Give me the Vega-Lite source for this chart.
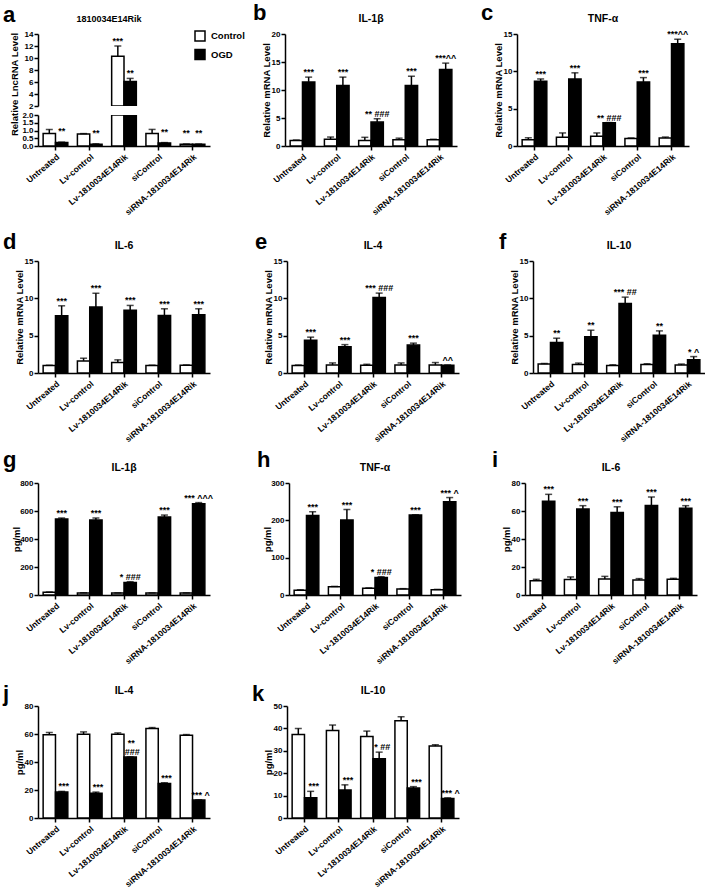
{
"$schema": "https://vega.github.io/schema/vega-lite/v6.json",
"padding": {"left": 3, "top": 2, "right": 0, "bottom": 0},
"spacing": 14,
"vconcat": [
 {"hconcat": [
  {"hconcat": [
   {"title": {"text": "a", "anchor": "start", "frame": "group", "fontSize": 22, "fontWeight": "bold", "baseline": "alphabetic", "dx": -35, "offset": -28.5},
    "vconcat": [
     {"width": 172, "height": 72, "title": {"text": "1810034E14Rik", "fontSize": 9, "dx": -15}, "data": {"name": "a"},
      "encoding": {"x": {"field": "c", "type": "nominal", "sort": ["Untreated", "Lv-control", "Lv-1810034E14Rik", "siControl", "siRNA-1810034E14Rik"], "scale": {"domain": ["Untreated", "Lv-control", "Lv-1810034E14Rik", "siControl", "siRNA-1810034E14Rik"], "paddingInner": 0.28, "paddingOuter": 0.15}, "axis": null}, "xOffset": {"field": "g", "type": "nominal", "sort": ["Control", "OGD"], "scale": {"domain": ["Control", "OGD"]}}},
      "layer": [
       {"transform": [{"filter": "datum.v > 2"}], "mark": {"type": "bar", "stroke": "black", "strokeWidth": 1.5, "clip": true}, "encoding": {"y": {"field": "v", "type": "quantitative", "scale": {"domain": [2, 14], "nice": false, "zero": false, "clamp": true}, "axis": {"title": "Relative LncRNA Level", "values": [2, 4, 6, 8, 10, 12, 14], "format": "d", "tickCount": 20, "titleY": 50, "titlePadding": 5}}, "fill": {"field": "g", "type": "nominal", "scale": {"domain": ["Control", "OGD"], "range": ["white", "black"]}, "legend": {"title": null, "orient": "none", "legendX": 156, "legendY": -4, "symbolType": "square", "symbolSize": 100, "symbolStrokeColor": "black", "symbolStrokeWidth": 1.5, "labelFontSize": 9.5, "labelFont": "Liberation Sans", "labelFontWeight": "bold", "labelColor": "black", "rowPadding": 2.5, "labelOffset": 5, "padding": 0}}}},
       {"transform": [{"filter": "datum.hi > 2"}], "mark": {"type": "rule", "color": "black", "strokeWidth": 1.5, "clip": true}, "encoding": {"y": {"field": "v", "type": "quantitative"}, "y2": {"field": "hi"}}},
       {"transform": [{"filter": "datum.hi > 2"}], "mark": {"type": "tick", "color": "black", "thickness": 1.5, "size": 7, "clip": true}, "encoding": {"y": {"field": "hi", "type": "quantitative"}}},
       {"transform": [{"filter": "datum.hi > 2"}], "mark": {"type": "text", "baseline": "alphabetic", "dy": -2, "fontSize": 9, "fontWeight": "bold"}, "encoding": {"y": {"field": "hi", "type": "quantitative"}, "text": {"field": "t"}}}
      ]},
     {"width": 172, "height": 31, "data": {"name": "a"},
      "encoding": {"x": {"field": "c", "type": "nominal", "sort": ["Untreated", "Lv-control", "Lv-1810034E14Rik", "siControl", "siRNA-1810034E14Rik"], "scale": {"domain": ["Untreated", "Lv-control", "Lv-1810034E14Rik", "siControl", "siRNA-1810034E14Rik"], "paddingInner": 0.28, "paddingOuter": 0.15}, "axis": {"title": null, "labelAngle": -40}}, "xOffset": {"field": "g", "type": "nominal", "sort": ["Control", "OGD"], "scale": {"domain": ["Control", "OGD"]}}},
      "layer": [
       {"mark": {"type": "bar", "stroke": "black", "strokeWidth": 1.5, "clip": true}, "encoding": {"y": {"field": "v", "type": "quantitative", "scale": {"domain": [0, 2], "nice": false, "zero": false, "clamp": true}, "axis": {"title": null, "values": [0, 0.5, 1, 1.5, 2], "tickCount": 20, "format": ".1f"}}, "fill": {"condition": {"test": "datum.g==='OGD'", "value": "black"}, "value": "white"}}},
       {"transform": [{"filter": "datum.hi < 2"}], "mark": {"type": "rule", "color": "black", "strokeWidth": 1.5}, "encoding": {"y": {"field": "v", "type": "quantitative"}, "y2": {"field": "hi"}}},
       {"transform": [{"filter": "datum.hi < 2"}], "mark": {"type": "tick", "color": "black", "thickness": 1.5, "size": 7}, "encoding": {"y": {"field": "hi", "type": "quantitative"}}},
       {"transform": [{"filter": "datum.hi < 2"}], "mark": {"type": "text", "baseline": "alphabetic", "dy": -8, "fontSize": 9, "fontWeight": "bold"}, "encoding": {"y": {"field": "hi", "type": "quantitative"}, "text": {"field": "t"}}}
      ]}
    ], "spacing": 9, "bounds": "flush"},
   {"title": {"text": "b", "anchor": "start", "frame": "group", "fontSize": 22, "fontWeight": "bold", "baseline": "alphabetic", "dx": -32, "offset": -28.5},
    "vconcat": [
     {"width": 172, "height": 112, "title": "IL-1β", "data": {"name": "b"},
      "encoding": {"x": {"field": "c", "type": "nominal", "sort": ["Untreated", "Lv-control", "Lv-1810034E14Rik", "siControl", "siRNA-1810034E14Rik"], "scale": {"domain": ["Untreated", "Lv-control", "Lv-1810034E14Rik", "siControl", "siRNA-1810034E14Rik"], "paddingInner": 0.28, "paddingOuter": 0.15}, "axis": {"title": null, "labelAngle": -40}}, "xOffset": {"field": "g", "type": "nominal", "sort": ["Control", "OGD"], "scale": {"domain": ["Control", "OGD"]}}},
      "layer": [
       {"mark": {"type": "bar", "stroke": "black", "strokeWidth": 1.5}, "encoding": {"y": {"field": "v", "type": "quantitative", "scale": {"domain": [0, 20], "nice": false}, "axis": {"title": "Relative mRNA Level", "values": [0, 5, 10, 15, 20], "tickCount": 20}}, "fill": {"condition": {"test": "datum.g==='OGD'", "value": "black"}, "value": "white"}}},
       {"mark": {"type": "rule", "color": "black", "strokeWidth": 1.5}, "encoding": {"y": {"field": "v", "type": "quantitative"}, "y2": {"field": "hi"}}},
       {"mark": {"type": "tick", "color": "black", "thickness": 1.5, "size": 7}, "encoding": {"y": {"field": "hi", "type": "quantitative"}}},
       {"mark": {"type": "text", "baseline": "alphabetic", "dy": -2, "fontSize": 9, "fontWeight": "bold"}, "encoding": {"y": {"field": "hi", "type": "quantitative"}, "text": {"field": "t"}}}
      ]}
    ]}
  ], "spacing": 43},
  {"title": {"text": "c", "anchor": "start", "frame": "group", "fontSize": 22, "fontWeight": "bold", "baseline": "alphabetic", "dx": -36, "offset": -28.5},
   "vconcat": [
    {"width": 172, "height": 112, "title": "TNF-α", "data": {"name": "c"},
     "encoding": {"x": {"field": "c", "type": "nominal", "sort": ["Untreated", "Lv-control", "Lv-1810034E14Rik", "siControl", "siRNA-1810034E14Rik"], "scale": {"domain": ["Untreated", "Lv-control", "Lv-1810034E14Rik", "siControl", "siRNA-1810034E14Rik"], "paddingInner": 0.28, "paddingOuter": 0.15}, "axis": {"title": null, "labelAngle": -40}}, "xOffset": {"field": "g", "type": "nominal", "sort": ["Control", "OGD"], "scale": {"domain": ["Control", "OGD"]}}},
     "layer": [
      {"mark": {"type": "bar", "stroke": "black", "strokeWidth": 1.5}, "encoding": {"y": {"field": "v", "type": "quantitative", "scale": {"domain": [0, 15], "nice": false}, "axis": {"title": "Relative mRNA Level", "values": [0, 5, 10, 15], "tickCount": 20}}, "fill": {"condition": {"test": "datum.g==='OGD'", "value": "black"}, "value": "white"}}},
      {"mark": {"type": "rule", "color": "black", "strokeWidth": 1.5}, "encoding": {"y": {"field": "v", "type": "quantitative"}, "y2": {"field": "hi"}}},
      {"mark": {"type": "tick", "color": "black", "thickness": 1.5, "size": 7}, "encoding": {"y": {"field": "hi", "type": "quantitative"}}},
      {"mark": {"type": "text", "baseline": "alphabetic", "dy": -2, "fontSize": 9, "fontWeight": "bold"}, "encoding": {"y": {"field": "hi", "type": "quantitative"}, "text": {"field": "t"}}}
     ]}
   ]}
 ], "spacing": 24},
 {"vconcat": [
  {"hconcat": [
   {"hconcat": [
    {"title": {"text": "d", "anchor": "start", "frame": "group", "fontSize": 22, "fontWeight": "bold", "baseline": "alphabetic", "dx": -35, "offset": -30.5},
     "vconcat": [
      {"width": 172, "height": 112, "title": "IL-6", "data": {"name": "d"},
       "encoding": {"x": {"field": "c", "type": "nominal", "sort": ["Untreated", "Lv-control", "Lv-1810034E14Rik", "siControl", "siRNA-1810034E14Rik"], "scale": {"domain": ["Untreated", "Lv-control", "Lv-1810034E14Rik", "siControl", "siRNA-1810034E14Rik"], "paddingInner": 0.28, "paddingOuter": 0.15}, "axis": {"title": null, "labelAngle": -40}}, "xOffset": {"field": "g", "type": "nominal", "sort": ["Control", "OGD"], "scale": {"domain": ["Control", "OGD"]}}},
       "layer": [
        {"mark": {"type": "bar", "stroke": "black", "strokeWidth": 1.5}, "encoding": {"y": {"field": "v", "type": "quantitative", "scale": {"domain": [0, 15], "nice": false}, "axis": {"title": "Relative mRNA Level", "values": [0, 5, 10, 15], "tickCount": 20}}, "fill": {"condition": {"test": "datum.g==='OGD'", "value": "black"}, "value": "white"}}},
        {"mark": {"type": "rule", "color": "black", "strokeWidth": 1.5}, "encoding": {"y": {"field": "v", "type": "quantitative"}, "y2": {"field": "hi"}}},
        {"mark": {"type": "tick", "color": "black", "thickness": 1.5, "size": 7}, "encoding": {"y": {"field": "hi", "type": "quantitative"}}},
        {"mark": {"type": "text", "baseline": "alphabetic", "dy": -2, "fontSize": 9, "fontWeight": "bold"}, "encoding": {"y": {"field": "hi", "type": "quantitative"}, "text": {"field": "t"}}}
       ]}
     ]},
    {"title": {"text": "e", "anchor": "start", "frame": "group", "fontSize": 22, "fontWeight": "bold", "baseline": "alphabetic", "dx": -32, "offset": -30.5},
     "vconcat": [
      {"width": 172, "height": 112, "title": "IL-4", "data": {"name": "e"},
       "encoding": {"x": {"field": "c", "type": "nominal", "sort": ["Untreated", "Lv-control", "Lv-1810034E14Rik", "siControl", "siRNA-1810034E14Rik"], "scale": {"domain": ["Untreated", "Lv-control", "Lv-1810034E14Rik", "siControl", "siRNA-1810034E14Rik"], "paddingInner": 0.28, "paddingOuter": 0.15}, "axis": {"title": null, "labelAngle": -40}}, "xOffset": {"field": "g", "type": "nominal", "sort": ["Control", "OGD"], "scale": {"domain": ["Control", "OGD"]}}},
       "layer": [
        {"mark": {"type": "bar", "stroke": "black", "strokeWidth": 1.5}, "encoding": {"y": {"field": "v", "type": "quantitative", "scale": {"domain": [0, 15], "nice": false}, "axis": {"title": "Relative mRNA Level", "values": [0, 5, 10, 15], "tickCount": 20}}, "fill": {"condition": {"test": "datum.g==='OGD'", "value": "black"}, "value": "white"}}},
        {"mark": {"type": "rule", "color": "black", "strokeWidth": 1.5}, "encoding": {"y": {"field": "v", "type": "quantitative"}, "y2": {"field": "hi"}}},
        {"mark": {"type": "tick", "color": "black", "thickness": 1.5, "size": 7}, "encoding": {"y": {"field": "hi", "type": "quantitative"}}},
        {"mark": {"type": "text", "baseline": "alphabetic", "dy": -2, "fontSize": 9, "fontWeight": "bold"}, "encoding": {"y": {"field": "hi", "type": "quantitative"}, "text": {"field": "t"}}}
       ]}
     ]}
   ], "spacing": 45},
   {"title": {"text": "f", "anchor": "start", "frame": "group", "fontSize": 22, "fontWeight": "bold", "baseline": "alphabetic", "dx": -34, "offset": -30.5},
    "vconcat": [
     {"width": 172, "height": 112, "title": "IL-10", "data": {"name": "f"},
      "encoding": {"x": {"field": "c", "type": "nominal", "sort": ["Untreated", "Lv-control", "Lv-1810034E14Rik", "siControl", "siRNA-1810034E14Rik"], "scale": {"domain": ["Untreated", "Lv-control", "Lv-1810034E14Rik", "siControl", "siRNA-1810034E14Rik"], "paddingInner": 0.28, "paddingOuter": 0.15}, "axis": {"title": null, "labelAngle": -40}}, "xOffset": {"field": "g", "type": "nominal", "sort": ["Control", "OGD"], "scale": {"domain": ["Control", "OGD"]}}},
      "layer": [
       {"mark": {"type": "bar", "stroke": "black", "strokeWidth": 1.5}, "encoding": {"y": {"field": "v", "type": "quantitative", "scale": {"domain": [0, 15], "nice": false}, "axis": {"title": "Relative mRNA Level", "values": [0, 5, 10, 15], "tickCount": 20}}, "fill": {"condition": {"test": "datum.g==='OGD'", "value": "black"}, "value": "white"}}},
       {"mark": {"type": "rule", "color": "black", "strokeWidth": 1.5}, "encoding": {"y": {"field": "v", "type": "quantitative"}, "y2": {"field": "hi"}}},
       {"mark": {"type": "tick", "color": "black", "thickness": 1.5, "size": 7}, "encoding": {"y": {"field": "hi", "type": "quantitative"}}},
       {"mark": {"type": "text", "baseline": "alphabetic", "dy": -2, "fontSize": 9, "fontWeight": "bold"}, "encoding": {"y": {"field": "hi", "type": "quantitative"}, "text": {"field": "t"}}}
      ]}
    ]}
  ], "spacing": 40},
  {"vconcat": [
   {"hconcat": [
    {"hconcat": [
     {"title": {"text": "g", "anchor": "start", "frame": "group", "fontSize": 22, "fontWeight": "bold", "baseline": "alphabetic", "dx": -35, "offset": -26.5},
      "vconcat": [
       {"width": 172, "height": 112, "title": "IL-1β", "data": {"name": "g"},
        "encoding": {"x": {"field": "c", "type": "nominal", "sort": ["Untreated", "Lv-control", "Lv-1810034E14Rik", "siControl", "siRNA-1810034E14Rik"], "scale": {"domain": ["Untreated", "Lv-control", "Lv-1810034E14Rik", "siControl", "siRNA-1810034E14Rik"], "paddingInner": 0.28, "paddingOuter": 0.15}, "axis": {"title": null, "labelAngle": -40}}, "xOffset": {"field": "g", "type": "nominal", "sort": ["Control", "OGD"], "scale": {"domain": ["Control", "OGD"]}}},
        "layer": [
         {"mark": {"type": "bar", "stroke": "black", "strokeWidth": 1.5}, "encoding": {"y": {"field": "v", "type": "quantitative", "scale": {"domain": [0, 800], "nice": false}, "axis": {"title": "pg/ml", "values": [0, 200, 400, 600, 800], "tickCount": 20, "minExtent": 17, "maxExtent": 17}}, "fill": {"condition": {"test": "datum.g==='OGD'", "value": "black"}, "value": "white"}}},
         {"mark": {"type": "rule", "color": "black", "strokeWidth": 1.5}, "encoding": {"y": {"field": "v", "type": "quantitative"}, "y2": {"field": "hi"}}},
         {"mark": {"type": "tick", "color": "black", "thickness": 1.5, "size": 7}, "encoding": {"y": {"field": "hi", "type": "quantitative"}}},
         {"mark": {"type": "text", "baseline": "alphabetic", "dy": -2, "fontSize": 9, "fontWeight": "bold"}, "encoding": {"y": {"field": "hi", "type": "quantitative"}, "text": {"field": "t"}}}
        ]}
      ]},
     {"title": {"text": "h", "anchor": "start", "frame": "group", "fontSize": 22, "fontWeight": "bold", "baseline": "alphabetic", "dx": -32, "offset": -26.5},
      "vconcat": [
       {"width": 172, "height": 112, "title": "TNF-α", "data": {"name": "h"},
        "encoding": {"x": {"field": "c", "type": "nominal", "sort": ["Untreated", "Lv-control", "Lv-1810034E14Rik", "siControl", "siRNA-1810034E14Rik"], "scale": {"domain": ["Untreated", "Lv-control", "Lv-1810034E14Rik", "siControl", "siRNA-1810034E14Rik"], "paddingInner": 0.28, "paddingOuter": 0.15}, "axis": {"title": null, "labelAngle": -40}}, "xOffset": {"field": "g", "type": "nominal", "sort": ["Control", "OGD"], "scale": {"domain": ["Control", "OGD"]}}},
        "layer": [
         {"mark": {"type": "bar", "stroke": "black", "strokeWidth": 1.5}, "encoding": {"y": {"field": "v", "type": "quantitative", "scale": {"domain": [0, 300], "nice": false}, "axis": {"title": "pg/ml", "values": [0, 100, 200, 300], "tickCount": 20, "minExtent": 17, "maxExtent": 17}}, "fill": {"condition": {"test": "datum.g==='OGD'", "value": "black"}, "value": "white"}}},
         {"mark": {"type": "rule", "color": "black", "strokeWidth": 1.5}, "encoding": {"y": {"field": "v", "type": "quantitative"}, "y2": {"field": "hi"}}},
         {"mark": {"type": "tick", "color": "black", "thickness": 1.5, "size": 7}, "encoding": {"y": {"field": "hi", "type": "quantitative"}}},
         {"mark": {"type": "text", "baseline": "alphabetic", "dy": -2, "fontSize": 9, "fontWeight": "bold"}, "encoding": {"y": {"field": "hi", "type": "quantitative"}, "text": {"field": "t"}}}
        ]}
      ]}
    ], "spacing": 43},
    {"title": {"text": "i", "anchor": "start", "frame": "group", "fontSize": 22, "fontWeight": "bold", "baseline": "alphabetic", "dx": -33, "offset": -26.5},
     "vconcat": [
      {"width": 172, "height": 112, "title": "IL-6", "data": {"name": "i"},
       "encoding": {"x": {"field": "c", "type": "nominal", "sort": ["Untreated", "Lv-control", "Lv-1810034E14Rik", "siControl", "siRNA-1810034E14Rik"], "scale": {"domain": ["Untreated", "Lv-control", "Lv-1810034E14Rik", "siControl", "siRNA-1810034E14Rik"], "paddingInner": 0.28, "paddingOuter": 0.15}, "axis": {"title": null, "labelAngle": -40}}, "xOffset": {"field": "g", "type": "nominal", "sort": ["Control", "OGD"], "scale": {"domain": ["Control", "OGD"]}}},
       "layer": [
        {"mark": {"type": "bar", "stroke": "black", "strokeWidth": 1.5}, "encoding": {"y": {"field": "v", "type": "quantitative", "scale": {"domain": [0, 80], "nice": false}, "axis": {"title": "pg/ml", "values": [0, 20, 40, 60, 80], "tickCount": 20}}, "fill": {"condition": {"test": "datum.g==='OGD'", "value": "black"}, "value": "white"}}},
        {"mark": {"type": "rule", "color": "black", "strokeWidth": 1.5}, "encoding": {"y": {"field": "v", "type": "quantitative"}, "y2": {"field": "hi"}}},
        {"mark": {"type": "tick", "color": "black", "thickness": 1.5, "size": 7}, "encoding": {"y": {"field": "hi", "type": "quantitative"}}},
        {"mark": {"type": "text", "baseline": "alphabetic", "dy": -2, "fontSize": 9, "fontWeight": "bold"}, "encoding": {"y": {"field": "hi", "type": "quantitative"}, "text": {"field": "t"}}}
       ]}
     ]}
   ], "spacing": 31},
   {"hconcat": [
    {"title": {"text": "j", "anchor": "start", "frame": "group", "fontSize": 22, "fontWeight": "bold", "baseline": "alphabetic", "dx": -35, "offset": -37},
     "vconcat": [
      {"width": 172, "height": 112, "title": "IL-4", "data": {"name": "j"},
       "encoding": {"x": {"field": "c", "type": "nominal", "sort": ["Untreated", "Lv-control", "Lv-1810034E14Rik", "siControl", "siRNA-1810034E14Rik"], "scale": {"domain": ["Untreated", "Lv-control", "Lv-1810034E14Rik", "siControl", "siRNA-1810034E14Rik"], "paddingInner": 0.28, "paddingOuter": 0.15}, "axis": {"title": null, "labelAngle": -40}}, "xOffset": {"field": "g", "type": "nominal", "sort": ["Control", "OGD"], "scale": {"domain": ["Control", "OGD"]}}},
       "layer": [
        {"mark": {"type": "bar", "stroke": "black", "strokeWidth": 1.5}, "encoding": {"y": {"field": "v", "type": "quantitative", "scale": {"domain": [0, 80], "nice": false}, "axis": {"title": "pg/ml", "values": [0, 20, 40, 60, 80], "tickCount": 20}}, "fill": {"condition": {"test": "datum.g==='OGD'", "value": "black"}, "value": "white"}}},
        {"mark": {"type": "rule", "color": "black", "strokeWidth": 1.5}, "encoding": {"y": {"field": "v", "type": "quantitative"}, "y2": {"field": "hi"}}},
        {"mark": {"type": "tick", "color": "black", "thickness": 1.5, "size": 7}, "encoding": {"y": {"field": "hi", "type": "quantitative"}}},
        {"mark": {"type": "text", "baseline": "alphabetic", "dy": -2, "dx": 2, "fontSize": 9, "fontWeight": "bold"}, "encoding": {"y": {"field": "hi", "type": "quantitative"}, "text": {"field": "t"}}},
        {"mark": {"type": "text", "baseline": "alphabetic", "dy": -11, "dx": 1, "fontSize": 9, "fontWeight": "bold"}, "encoding": {"y": {"field": "hi", "type": "quantitative"}, "text": {"field": "t2"}}}
       ]}
     ]},
    {"title": {"text": "k", "anchor": "start", "frame": "group", "fontSize": 22, "fontWeight": "bold", "baseline": "alphabetic", "dx": -35, "offset": -37},
     "vconcat": [
      {"width": 172, "height": 112, "title": "IL-10", "data": {"name": "k"},
       "encoding": {"x": {"field": "c", "type": "nominal", "sort": ["Untreated", "Lv-control", "Lv-1810034E14Rik", "siControl", "siRNA-1810034E14Rik"], "scale": {"domain": ["Untreated", "Lv-control", "Lv-1810034E14Rik", "siControl", "siRNA-1810034E14Rik"], "paddingInner": 0.28, "paddingOuter": 0.15}, "axis": {"title": null, "labelAngle": -40}}, "xOffset": {"field": "g", "type": "nominal", "sort": ["Control", "OGD"], "scale": {"domain": ["Control", "OGD"]}}},
       "layer": [
        {"mark": {"type": "bar", "stroke": "black", "strokeWidth": 1.5}, "encoding": {"y": {"field": "v", "type": "quantitative", "scale": {"domain": [0, 50], "nice": false}, "axis": {"title": "pg/ml", "values": [0, 10, 20, 30, 40, 50], "tickCount": 20}}, "fill": {"condition": {"test": "datum.g==='OGD'", "value": "black"}, "value": "white"}}},
        {"mark": {"type": "rule", "color": "black", "strokeWidth": 1.5}, "encoding": {"y": {"field": "v", "type": "quantitative"}, "y2": {"field": "hi"}}},
        {"mark": {"type": "tick", "color": "black", "thickness": 1.5, "size": 7}, "encoding": {"y": {"field": "hi", "type": "quantitative"}}},
        {"mark": {"type": "text", "baseline": "alphabetic", "dy": -2, "dx": 3, "fontSize": 9, "fontWeight": "bold"}, "encoding": {"y": {"field": "hi", "type": "quantitative"}, "text": {"field": "t"}}}
       ]}
     ]}
   ], "spacing": 42}
  ], "spacing": 16}
 ], "spacing": 5}
],
"datasets": {
 "a": [
  {"c": "Untreated", "g": "Control", "v": 0.8, "hi": 1.07, "t": ""},
  {"c": "Untreated", "g": "OGD", "v": 0.22, "hi": 0.25, "t": "**"},
  {"c": "Lv-control", "g": "Control", "v": 0.78, "hi": 0.8, "t": ""},
  {"c": "Lv-control", "g": "OGD", "v": 0.12, "hi": 0.14, "t": "**"},
  {"c": "Lv-1810034E14Rik", "g": "Control", "v": 10.3, "hi": 12.0, "t": "***"},
  {"c": "Lv-1810034E14Rik", "g": "OGD", "v": 6.1, "hi": 6.6, "t": "**"},
  {"c": "siControl", "g": "Control", "v": 0.8, "hi": 1.07, "t": ""},
  {"c": "siControl", "g": "OGD", "v": 0.2, "hi": 0.22, "t": "**"},
  {"c": "siRNA-1810034E14Rik", "g": "Control", "v": 0.12, "hi": 0.13, "t": "**"},
  {"c": "siRNA-1810034E14Rik", "g": "OGD", "v": 0.12, "hi": 0.13, "t": "**"}
 ],
 "b": [
  {"c": "Untreated", "g": "Control", "v": 1.0, "hi": 1.07, "t": ""},
  {"c": "Untreated", "g": "OGD", "v": 11.45, "hi": 12.3, "t": "***"},
  {"c": "Lv-control", "g": "Control", "v": 1.2, "hi": 1.6, "t": ""},
  {"c": "Lv-control", "g": "OGD", "v": 10.8, "hi": 12.3, "t": "***"},
  {"c": "Lv-1810034E14Rik", "g": "Control", "v": 1.0, "hi": 1.55, "t": ""},
  {"c": "Lv-1810034E14Rik", "g": "OGD", "v": 4.27, "hi": 4.87, "t": "** ###"},
  {"c": "siControl", "g": "Control", "v": 1.1, "hi": 1.4, "t": ""},
  {"c": "siControl", "g": "OGD", "v": 10.8, "hi": 12.46, "t": "***"},
  {"c": "siRNA-1810034E14Rik", "g": "Control", "v": 1.1, "hi": 1.2, "t": ""},
  {"c": "siRNA-1810034E14Rik", "g": "OGD", "v": 13.65, "hi": 14.8, "t": "***^^"}
 ],
 "c": [
  {"c": "Untreated", "g": "Control", "v": 0.85, "hi": 1.1, "t": ""},
  {"c": "Untreated", "g": "OGD", "v": 8.67, "hi": 8.98, "t": "***"},
  {"c": "Lv-control", "g": "Control", "v": 1.17, "hi": 1.75, "t": ""},
  {"c": "Lv-control", "g": "OGD", "v": 8.98, "hi": 9.8, "t": "***"},
  {"c": "Lv-1810034E14Rik", "g": "Control", "v": 1.3, "hi": 1.75, "t": ""},
  {"c": "Lv-1810034E14Rik", "g": "OGD", "v": 3.1, "hi": 3.14, "t": "** ###"},
  {"c": "siControl", "g": "Control", "v": 1.0, "hi": 1.08, "t": ""},
  {"c": "siControl", "g": "OGD", "v": 8.58, "hi": 9.16, "t": "***"},
  {"c": "siRNA-1810034E14Rik", "g": "Control", "v": 1.08, "hi": 1.2, "t": ""},
  {"c": "siRNA-1810034E14Rik", "g": "OGD", "v": 13.7, "hi": 14.3, "t": "***^^"}
 ],
 "d": [
  {"c": "Untreated", "g": "Control", "v": 1.0, "hi": 1.05, "t": ""},
  {"c": "Untreated", "g": "OGD", "v": 7.66, "hi": 9.0, "t": "***"},
  {"c": "Lv-control", "g": "Control", "v": 1.62, "hi": 1.98, "t": ""},
  {"c": "Lv-control", "g": "OGD", "v": 8.83, "hi": 10.68, "t": "***"},
  {"c": "Lv-1810034E14Rik", "g": "Control", "v": 1.4, "hi": 1.76, "t": ""},
  {"c": "Lv-1810034E14Rik", "g": "OGD", "v": 8.42, "hi": 9.05, "t": "***"},
  {"c": "siControl", "g": "Control", "v": 1.0, "hi": 1.05, "t": ""},
  {"c": "siControl", "g": "OGD", "v": 7.7, "hi": 8.6, "t": "***"},
  {"c": "siRNA-1810034E14Rik", "g": "Control", "v": 1.04, "hi": 1.08, "t": ""},
  {"c": "siRNA-1810034E14Rik", "g": "OGD", "v": 7.8, "hi": 8.6, "t": "***"}
 ],
 "e": [
  {"c": "Untreated", "g": "Control", "v": 1.0, "hi": 1.08, "t": ""},
  {"c": "Untreated", "g": "OGD", "v": 4.37, "hi": 4.8, "t": "***"},
  {"c": "Lv-control", "g": "Control", "v": 1.08, "hi": 1.35, "t": ""},
  {"c": "Lv-control", "g": "OGD", "v": 3.5, "hi": 3.8, "t": "***"},
  {"c": "Lv-1810034E14Rik", "g": "Control", "v": 1.04, "hi": 1.17, "t": ""},
  {"c": "Lv-1810034E14Rik", "g": "OGD", "v": 10.1, "hi": 10.7, "t": "*** ###"},
  {"c": "siControl", "g": "Control", "v": 1.08, "hi": 1.35, "t": ""},
  {"c": "siControl", "g": "OGD", "v": 3.74, "hi": 4.0, "t": "***"},
  {"c": "siRNA-1810034E14Rik", "g": "Control", "v": 1.08, "hi": 1.4, "t": ""},
  {"c": "siRNA-1810034E14Rik", "g": "OGD", "v": 1.04, "hi": 1.08, "t": "^^"}
 ],
 "f": [
  {"c": "Untreated", "g": "Control", "v": 1.2, "hi": 1.28, "t": ""},
  {"c": "Untreated", "g": "OGD", "v": 4.08, "hi": 4.66, "t": "**"},
  {"c": "Lv-control", "g": "Control", "v": 1.15, "hi": 1.33, "t": ""},
  {"c": "Lv-control", "g": "OGD", "v": 4.84, "hi": 5.73, "t": "**"},
  {"c": "Lv-1810034E14Rik", "g": "Control", "v": 1.02, "hi": 1.1, "t": ""},
  {"c": "Lv-1810034E14Rik", "g": "OGD", "v": 9.32, "hi": 10.16, "t": "*** ##"},
  {"c": "siControl", "g": "Control", "v": 1.15, "hi": 1.24, "t": ""},
  {"c": "siControl", "g": "OGD", "v": 5.06, "hi": 5.64, "t": "**"},
  {"c": "siRNA-1810034E14Rik", "g": "Control", "v": 1.06, "hi": 1.2, "t": ""},
  {"c": "siRNA-1810034E14Rik", "g": "OGD", "v": 1.78, "hi": 2.2, "t": "* ^"}
 ],
 "g": [
  {"c": "Untreated", "g": "Control", "v": 19, "hi": 21, "t": ""},
  {"c": "Untreated", "g": "OGD", "v": 543, "hi": 550, "t": "***"},
  {"c": "Lv-control", "g": "Control", "v": 14, "hi": 16, "t": ""},
  {"c": "Lv-control", "g": "OGD", "v": 536, "hi": 550, "t": "***"},
  {"c": "Lv-1810034E14Rik", "g": "Control", "v": 14, "hi": 15, "t": ""},
  {"c": "Lv-1810034E14Rik", "g": "OGD", "v": 90, "hi": 95, "t": "* ###"},
  {"c": "siControl", "g": "Control", "v": 14, "hi": 15, "t": ""},
  {"c": "siControl", "g": "OGD", "v": 557, "hi": 571, "t": "***"},
  {"c": "siRNA-1810034E14Rik", "g": "Control", "v": 14, "hi": 15, "t": ""},
  {"c": "siRNA-1810034E14Rik", "g": "OGD", "v": 652, "hi": 660, "t": "*** ^^^"}
 ],
 "h": [
  {"c": "Untreated", "g": "Control", "v": 13, "hi": 14, "t": ""},
  {"c": "Untreated", "g": "OGD", "v": 213, "hi": 223, "t": "***"},
  {"c": "Lv-control", "g": "Control", "v": 22, "hi": 23, "t": ""},
  {"c": "Lv-control", "g": "OGD", "v": 201, "hi": 229, "t": "***"},
  {"c": "Lv-1810034E14Rik", "g": "Control", "v": 18, "hi": 19, "t": ""},
  {"c": "Lv-1810034E14Rik", "g": "OGD", "v": 47, "hi": 49, "t": "* ###"},
  {"c": "siControl", "g": "Control", "v": 16, "hi": 17, "t": ""},
  {"c": "siControl", "g": "OGD", "v": 214, "hi": 215, "t": "***"},
  {"c": "siRNA-1810034E14Rik", "g": "Control", "v": 14, "hi": 15, "t": ""},
  {"c": "siRNA-1810034E14Rik", "g": "OGD", "v": 250, "hi": 261, "t": "*** ^"}
 ],
 "i": [
  {"c": "Untreated", "g": "Control", "v": 10.2, "hi": 11.2, "t": ""},
  {"c": "Untreated", "g": "OGD", "v": 66.9, "hi": 71.9, "t": "***"},
  {"c": "Lv-control", "g": "Control", "v": 11, "hi": 12.9, "t": ""},
  {"c": "Lv-control", "g": "OGD", "v": 61.4, "hi": 63.8, "t": "***"},
  {"c": "Lv-1810034E14Rik", "g": "Control", "v": 11.4, "hi": 13.3, "t": ""},
  {"c": "Lv-1810034E14Rik", "g": "OGD", "v": 59, "hi": 63, "t": "***"},
  {"c": "siControl", "g": "Control", "v": 10.7, "hi": 11.7, "t": ""},
  {"c": "siControl", "g": "OGD", "v": 64, "hi": 70, "t": "***"},
  {"c": "siRNA-1810034E14Rik", "g": "Control", "v": 11.2, "hi": 11.9, "t": ""},
  {"c": "siRNA-1810034E14Rik", "g": "OGD", "v": 62, "hi": 63.8, "t": "***"}
 ],
 "j": [
  {"c": "Untreated", "g": "Control", "v": 59.4, "hi": 61, "t": "", "t2": ""},
  {"c": "Untreated", "g": "OGD", "v": 18.5, "hi": 19, "t": "***", "t2": ""},
  {"c": "Lv-control", "g": "Control", "v": 59.9, "hi": 61.5, "t": "", "t2": ""},
  {"c": "Lv-control", "g": "OGD", "v": 17.6, "hi": 18.5, "t": "***", "t2": ""},
  {"c": "Lv-1810034E14Rik", "g": "Control", "v": 59.9, "hi": 60.8, "t": "", "t2": ""},
  {"c": "Lv-1810034E14Rik", "g": "OGD", "v": 43.5, "hi": 43.7, "t": "###", "t2": "**"},
  {"c": "siControl", "g": "Control", "v": 63.9, "hi": 64.6, "t": "", "t2": ""},
  {"c": "siControl", "g": "OGD", "v": 24.7, "hi": 25.2, "t": "***", "t2": ""},
  {"c": "siRNA-1810034E14Rik", "g": "Control", "v": 59.1, "hi": 59.6, "t": "", "t2": ""},
  {"c": "siRNA-1810034E14Rik", "g": "OGD", "v": 12.8, "hi": 13, "t": "*** ^", "t2": ""}
 ],
 "k": [
  {"c": "Untreated", "g": "Control", "v": 37.3, "hi": 40, "t": ""},
  {"c": "Untreated", "g": "OGD", "v": 9, "hi": 11.9, "t": "***"},
  {"c": "Lv-control", "g": "Control", "v": 39.1, "hi": 41.5, "t": ""},
  {"c": "Lv-control", "g": "OGD", "v": 12.5, "hi": 14.8, "t": "***"},
  {"c": "Lv-1810034E14Rik", "g": "Control", "v": 36.4, "hi": 38.8, "t": ""},
  {"c": "Lv-1810034E14Rik", "g": "OGD", "v": 26.4, "hi": 29.4, "t": "* ##"},
  {"c": "siControl", "g": "Control", "v": 43.4, "hi": 45.2, "t": ""},
  {"c": "siControl", "g": "OGD", "v": 13.4, "hi": 14, "t": "***"},
  {"c": "siRNA-1810034E14Rik", "g": "Control", "v": 32.1, "hi": 32.7, "t": ""},
  {"c": "siRNA-1810034E14Rik", "g": "OGD", "v": 8.7, "hi": 9, "t": "*** ^"}
 ]
},
"config": {
 "font": "Liberation Sans",
 "view": {"stroke": null},
 "axis": {"domainColor": "black", "domainWidth": 1.5, "tickColor": "black", "tickWidth": 1.5, "tickSize": 4, "labelColor": "black", "labelFont": "Liberation Sans", "labelFontWeight": "bold", "titleColor": "black", "titleFont": "Liberation Sans", "titleFontWeight": "bold", "grid": false, "labelOverlap": false},
 "axisY": {"labelFontSize": 8, "labelPadding": 1, "titleFontSize": 9.5, "minExtent": 14, "maxExtent": 14, "titlePadding": 0},
 "axisX": {"labelFontSize": 8.5, "labelPadding": 2},
 "title": {"font": "Liberation Sans", "fontSize": 10.5, "fontWeight": "bold", "color": "black", "offset": 6},
 "text": {"font": "Liberation Sans", "color": "black"}
}
}
